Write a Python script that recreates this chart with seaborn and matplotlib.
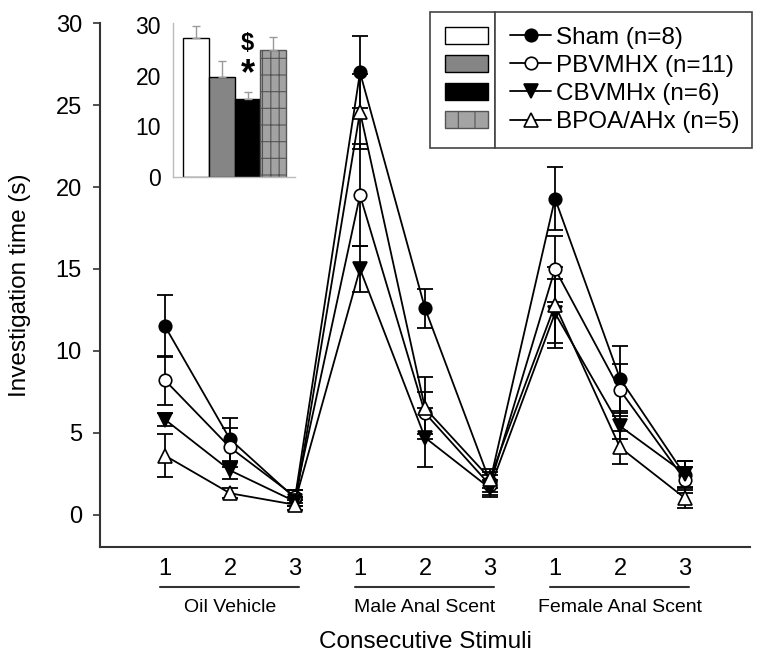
import numpy as np
import pandas as pd
import matplotlib
matplotlib.use("Agg")
import matplotlib.pyplot as plt
import matplotlib.transforms as mtransforms
from matplotlib.patches import Patch
from matplotlib.lines import Line2D
import seaborn as sns

# ---------------- data ----------------
positions = [1, 2, 3, 4, 5, 6, 7, 8, 9]
tick_labels = ["1", "2", "3", "1", "2", "3", "1", "2", "3"]
stimulus_groups = ["Oil Vehicle", "Male Anal Scent", "Female Anal Scent"]
group_names = ["Sham (n=8)", "PBVMHX (n=11)", "CBVMHx (n=6)", "BPOA/AHx (n=5)"]

sham = [11.5, 4.6, 1.0, 27.0, 12.6, 2.0, 19.3, 8.3, 2.4]
sham_err = [1.9, 1.3, 0.5, 2.2, 1.2, 0.6, 1.9, 2.0, 0.9]
pbvmhx = [8.2, 4.1, 1.1, 19.5, 6.2, 1.8, 15.0, 7.6, 2.1]
pbvmhx_err = [1.5, 1.2, 0.4, 3.1, 1.3, 0.6, 2.0, 1.6, 0.8]
cbvmhx = [5.8, 2.7, 0.8, 15.0, 4.7, 1.6, 12.3, 5.4, 2.5]
cbvmhx_err = [0.4, 0.5, 0.3, 1.4, 1.8, 0.5, 2.1, 0.8, 0.8]
bpoa = [3.6, 1.3, 0.6, 24.6, 6.5, 2.2, 12.8, 4.1, 1.0]
bpoa_err = [1.3, 0.3, 0.3, 2.3, 1.9, 0.6, 2.3, 1.0, 0.6]

inset_vals = [27.4, 19.7, 15.3, 25.1]
inset_errs = [2.4, 3.2, 1.4, 2.5]
inset_ticks = [0, 10, 20, 30]
y_ticks = [0, 5, 10, 15, 20, 25, 30]

# ---------------- style ----------------
sns.set_style("ticks")
plt.rcParams["font.family"] = ["Liberation Sans", "DejaVu Sans"]
plt.rcParams["hatch.linewidth"] = 0.8
for key in ["text.color", "axes.labelcolor", "xtick.labelcolor", "ytick.labelcolor"]:
    plt.rcParams[key] = "black"

markers = ["o", "o", "v", "^"]
facecols = ["black", "white", "black", "white"]
msizes = [9, 9, 10, 10]
bar_colors = ["#ffffff", "#858585", "#000000", "#a3a3a3"]
axis_col = "#333333"

fig = plt.figure(figsize=(7.62, 6.6), dpi=100)
ax = fig.add_axes([100 / 762, 112.7 / 660, 650 / 762, 524 / 660])

series = [sham, pbvmhx, cbvmhx, bpoa]
errors = [sham_err, pbvmhx_err, cbvmhx_err, bpoa_err]
for vals, errs, m, fc, ms in zip(series, errors, markers, facecols, msizes):
    ax.errorbar(positions, vals, yerr=errs, fmt="none", ecolor="black",
                elinewidth=1.3, capsize=6, capthick=1.3, zorder=2)
    sns.lineplot(x=positions, y=vals, ax=ax, color="black", linewidth=1.3,
                 marker=m, markersize=ms, markerfacecolor=fc,
                 markeredgecolor="black", markeredgewidth=1.2, zorder=3)

ax.set_xlim(0, 10)
ax.set_ylim(-2, 30)
ax.set_yticks(y_ticks)
ax.set_xticks(positions, tick_labels)
ax.tick_params(axis="x", length=0, pad=8, labelsize=17, labelcolor="black")
ax.tick_params(axis="y", length=5, width=1.2, color=axis_col, pad=8,
               labelsize=17, labelcolor="black")
for s in ["top", "right"]:
    ax.spines[s].set_visible(False)
for s in ["left", "bottom"]:
    ax.spines[s].set_color(axis_col)
    ax.spines[s].set_linewidth(1.5)
ax.spines["left"].set_bounds(-2, 30)

ax.set_ylabel("Investigation time (s)", fontsize=17.5, color="black")
ax.yaxis.set_label_coords(-0.123, 0.5)
ax.yaxis.label.set_va("center")
ax.set_xlabel("Consecutive Stimuli", fontsize=17.5, color="black")
ax.xaxis.set_label_coords(0.5, -0.18)
ax.xaxis.label.set_va("center")

trans = mtransforms.blended_transform_factory(ax.transData, ax.transAxes)
for i, name in enumerate(stimulus_groups):
    first = positions[3 * i]
    last = positions[3 * i + 2]
    ax.plot([first - 0.08, last + 0.06], [-0.075, -0.075], transform=trans,
            color=axis_col, lw=1.5, clip_on=False)
    ax.text((first + last) / 2, -0.115, name, transform=trans, ha="center",
            va="center", fontsize=14, color="black")

# ---------------- inset ----------------
ins = fig.add_axes([173.3 / 762, (660 - 176.7) / 660, (295 - 173.3) / 762, 154 / 660])
df_in = pd.DataFrame({"group": group_names, "value": inset_vals})
sns.barplot(data=df_in, x="group", y="value", hue="group", palette=bar_colors,
            width=1.0, edgecolor="black", linewidth=1.0, ax=ins, legend=False,
            errorbar=None)
ins.patches[3].set_hatch("+|")
ins.patches[3].set_edgecolor("#555555")
ins.errorbar(np.arange(len(inset_vals)), inset_vals,
             yerr=[np.zeros(len(inset_errs)), inset_errs], fmt="none",
             ecolor="#9a9a9a", elinewidth=1.0, capsize=3, capthick=1.0)
ins.set_xlim(-0.86, 3.83)
ins.set_ylim(0, 30.5)
ins.set_yticks(inset_ticks)
ins.set_xticks([])
ins.set_xlabel("")
ins.set_ylabel("")
ins.tick_params(axis="y", length=0, pad=9, labelsize=16.5, labelcolor="black")
for s in ["top", "right"]:
    ins.spines[s].set_visible(False)
for s in ["left", "bottom"]:
    ins.spines[s].set_color("#bbbbbb")
    ins.spines[s].set_linewidth(1.0)
ins.set_facecolor("none")
ins.text(2, 26.3, "$", ha="center", va="center", fontsize=17, fontweight="bold")
ins.text(2, 20.2, "*", ha="center", va="center", fontsize=26, fontweight="bold")

# ---------------- legend (two joined boxes) ----------------
hatches = [None, None, None, "|"]
patch_handles = [Patch(facecolor=c, edgecolor="black" if h is None else "#555555",
                       hatch=h, linewidth=1.0)
                 for c, h in zip(bar_colors, hatches)]
line_handles = [Line2D([], [], color="black", lw=1.3, marker=m, markersize=ms,
                       markerfacecolor=fc, markeredgecolor="black",
                       markeredgewidth=1.2)
                for m, fc, ms in zip(markers, facecols, msizes)]

top_y = (660 - 11.7) / 660
common = dict(loc="upper left", mode="expand", borderaxespad=0, fontsize=17.5,
              labelspacing=0.25, borderpad=0.62, fancybox=False, framealpha=1,
              edgecolor="#444444")
legA = fig.legend(patch_handles, [" "] * 4,
                  bbox_to_anchor=(430 / 762, 0.5, 65 / 762, top_y - 0.5),
                  handlelength=1.75, handleheight=0.7, handletextpad=0.0,
                  **common)
legB = fig.legend(line_handles, group_names,
                  bbox_to_anchor=(495 / 762, 0.5, 257 / 762, top_y - 0.5),
                  handlelength=1.7, handletextpad=0.2, **common)
for lg in (legA, legB):
    lg.get_frame().set_linewidth(1.2)
    for t in lg.get_texts():
        t.set_color("black")

fig.savefig("out.png", dpi=100, facecolor="white")
